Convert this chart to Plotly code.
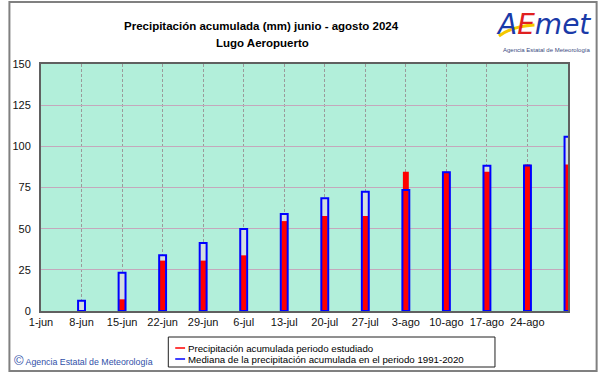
import plotly.graph_objects as go

# ---- data ----
week_labels = ["1-jun", "8-jun", "15-jun", "22-jun", "29-jun", "6-jul", "13-jul",
               "20-jul", "27-jul", "3-ago", "10-ago", "17-ago", "24-ago", ""]
bar_weeks = [1, 2, 3, 4, 5, 6, 7, 8, 9, 10, 11, 12, 13]
precip_2024 = [0.0, 7.1, 30.6, 30.6, 33.8, 54.6, 57.7, 57.7, 84.6, 84.6, 84.6, 89.0, 89.0]
median_1991_2020 = [6.3, 23.3, 33.8, 41.3, 49.8, 58.9, 68.4, 72.4, 73.5, 84.3, 88.2, 88.4, 105.8]
y_ticks = [0, 25, 50, 75, 100, 125, 150]

W, H = 601, 374
L, R, T, B = 34, 568, 64, 311


def px(x):
    return (x - L) / (R - L)


def py(y):
    return (B - y) / (B - T)


week_px = (R - L) / 13.0
blue_w = 7 / week_px
red_w = 6 / week_px

fig = go.Figure()
fig.add_trace(go.Bar(x=bar_weeks, y=median_1991_2020, width=blue_w,
                     marker=dict(color="#d4dede", line=dict(width=0)),
                     showlegend=False, cliponaxis=False, hoverinfo="skip"))
fig.add_trace(go.Bar(x=bar_weeks, y=precip_2024, width=red_w,
                     name="Precipitación acumulada periodo estudiado",
                     marker=dict(color="#ff0000", line=dict(width=0)),
                     showlegend=False, cliponaxis=False))
fig.add_trace(go.Bar(x=bar_weeks, y=median_1991_2020, width=blue_w,
                     name="Mediana de la precipitación acumulada en el periodo 1991-2020",
                     marker=dict(color="rgba(0,0,0,0)", line=dict(width=2, color="#0000ff")),
                     showlegend=False, cliponaxis=False))

font = "Liberation Sans, Arial, sans-serif"

fig.update_layout(
    width=W, height=H,
    margin=dict(l=L, r=W - R, t=T, b=H - B, pad=0),
    paper_bgcolor="white",
    plot_bgcolor="#b2efda",
    barmode="overlay",
    showlegend=False,
    font=dict(family=font, size=11, color="black"),
    xaxis=dict(range=[0, 13], tickvals=list(range(14)), ticktext=week_labels,
               showgrid=True, gridcolor="#9a9a9a", griddash="3px,2px", gridwidth=1,
               showline=True, linecolor="#606060", linewidth=2, mirror=True,
               ticks="", zeroline=False, tickfont=dict(size=11, color="#111111")),
    yaxis=dict(range=[0, 150], tickvals=y_ticks,
               showgrid=True, gridcolor="#c4a8bc", gridwidth=1,
               showline=True, linecolor="#606060", linewidth=2, mirror=True,
               ticks="", zeroline=False, ticklabelstandoff=6,
               tickfont=dict(size=11, color="#111111")),
)

ann = []
# title
ann.append(dict(x=px(257), y=py(26), xref="paper", yref="paper",
                text="<b>Precipitación acumulada (mm) junio - agosto 2024</b>",
                showarrow=False, font=dict(size=11.5, family=font, color="black"),
                xanchor="center", yanchor="middle"))
ann.append(dict(x=px(258), y=py(43), xref="paper", yref="paper",
                text="<b>Lugo Aeropuerto</b>",
                showarrow=False, font=dict(size=11.5, family=font, color="black"),
                xanchor="center", yanchor="middle"))
# logo
ann.append(dict(x=px(543), y=py(24), xref="paper", yref="paper",
                text="<i><span style='color:#1a3aa8'>A</span><span style='color:#e02020'>E</span>"
                     "<span style='color:#1a3aa8'>met</span></i>",
                showarrow=False, font=dict(size=28, family="DejaVu Sans, sans-serif"),
                xanchor="center", yanchor="middle"))
ann.append(dict(x=px(546), y=py(50), xref="paper", yref="paper",
                text="Agencia Estatal de Meteorología",
                showarrow=False, font=dict(size=6, family=font, color="#3a4a80"),
                xanchor="center", yanchor="middle"))
# legend texts
ann.append(dict(x=px(181), y=py(348), xref="paper", yref="paper",
                text="Precipitación acumulada periodo estudiado",
                showarrow=False, font=dict(size=9.7, family=font, color="black"),
                xanchor="left", yanchor="middle"))
ann.append(dict(x=px(181), y=py(359), xref="paper", yref="paper",
                text="Mediana de la precipitación acumulada en el periodo 1991-2020",
                showarrow=False, font=dict(size=9.7, family=font, color="black"),
                xanchor="left", yanchor="middle"))
# footer
ann.append(dict(x=px(5), y=py(360), xref="paper", yref="paper",
                text="<span style='font-size:13px'>©</span> Agencia Estatal de Meteorología",
                showarrow=False, font=dict(size=8.8, family=font, color="#3050a8"),
                xanchor="left", yanchor="middle"))
fig.update_layout(annotations=ann)

shapes = [
    # outer frame
    dict(type="rect", xref="paper", yref="paper", x0=px(2), x1=px(597), y0=py(2), y1=py(371),
         line=dict(color="#808080", width=2), fillcolor="rgba(0,0,0,0)", layer="below"),
    # legend box
    dict(type="rect", xref="paper", yref="paper", x0=px(163), x1=px(494), y0=py(337), y1=py(367),
         line=dict(color="#202020", width=1), fillcolor="white"),
    dict(type="line", xref="paper", yref="paper", x0=px(170), x1=px(180), y0=py(348), y1=py(348),
         line=dict(color="#ff0000", width=1.5)),
    dict(type="line", xref="paper", yref="paper", x0=px(170), x1=px(180), y0=py(359), y1=py(359),
         line=dict(color="#0000ff", width=1.5)),
    # logo swoosh
    dict(type="path", xref="paper", yref="paper",
         path=f"M {px(498)},{py(36)} Q {px(512)},{py(26)} {px(534)},{py(25)}",
         line=dict(color="#f5c800", width=3), layer="above"),
]
fig.update_layout(shapes=shapes)

fig.write_html("out.html", config={"displayModeBar": False},
               post_script="document.body.style.margin='0';document.body.style.overflow='hidden';")
